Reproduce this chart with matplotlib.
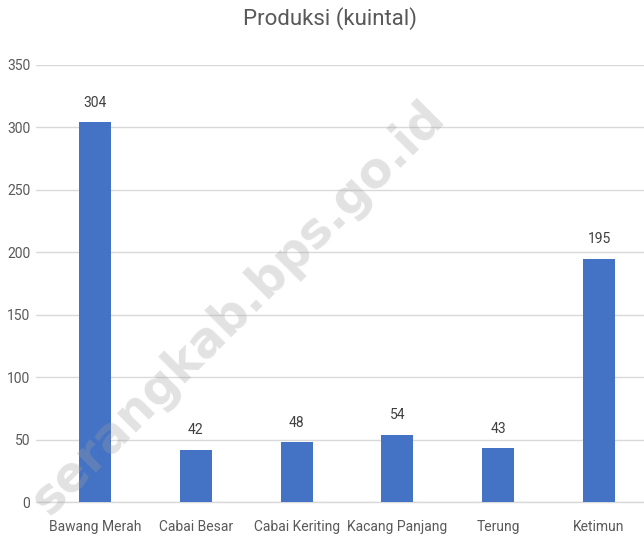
import matplotlib
matplotlib.use("Agg")
import matplotlib.pyplot as plt

categories = ["Bawang Merah", "Cabai Besar", "Cabai Keriting", "Kacang Panjang", "Terung", "Ketimun"]
values = [304, 42, 48, 54, 43, 195]
yticks = [0, 50, 100, 150, 200, 250, 300, 350]
title = "Produksi (kuintal)"
watermark = "serangkab.bps.go.id"

plt.rcParams["font.family"] = ["Roboto", "DejaVu Sans"]

W, H = 644, 542
fig = plt.figure(figsize=(W / 100, H / 100), dpi=100)
ax = fig.add_axes([36 / W, 1 - 502 / H, (644 - 36) / W, (502 - 65) / H])

x = list(range(len(categories)))
ax.bar(x, values, width=0.317, color="#4472C4", zorder=3)
ax.set_xlim(-0.585, 5.446)
ax.set_ylim(0, 350)
ax.set_yticks(yticks)
ax.set_xticks(x)
ax.set_xticklabels(categories)
ax.yaxis.grid(True, color="#D9D9D9", linewidth=1.0, zorder=0)
for s in ["top", "right", "left"]:
    ax.spines[s].set_visible(False)
ax.spines["bottom"].set_color("#D9D9D9")
ax.spines["bottom"].set_linewidth(1.0)
ax.tick_params(axis="both", length=0, colors="#595959", labelsize=10)
ax.tick_params(axis="y", pad=4)
ax.tick_params(axis="x", pad=13)

for xi, v in zip(x, values):
    ax.annotate(str(v), (xi, v), xytext=(0, 9), textcoords="offset points",
                ha="center", va="bottom", fontsize=10, color="#404040")

fig.text(330 / W, 1 - 19 / H, title, ha="center", va="center", fontsize=16, color="#595959")

fig.text(238 / W, 1 - 308 / H, watermark, rotation=45, ha="center", va="center",
         fontsize=35, fontweight="bold", color="#A0A0A0", alpha=0.3,
         family="DejaVu Sans", zorder=10)

fig.savefig("out.png", dpi=100)
